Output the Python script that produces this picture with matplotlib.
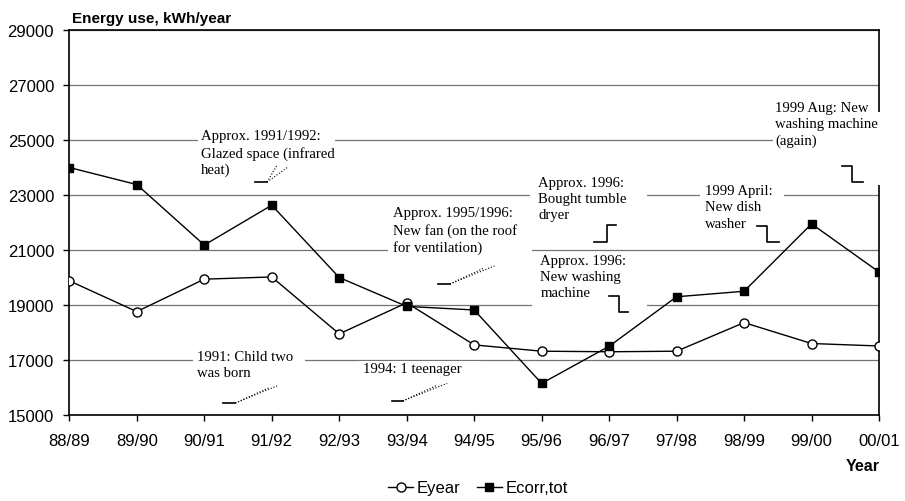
import matplotlib
matplotlib.use("Agg")
import matplotlib.pyplot as plt
from matplotlib.patches import Rectangle

plt.rcParams['font.family'] = ['Liberation Sans', 'DejaVu Sans']

# data
years = ['88/89', '89/90', '90/91', '91/92', '92/93', '93/94', '94/95',
         '95/96', '96/97', '97/98', '98/99', '99/00', '00/01']
e_year = [19880, 18760, 19940, 20020, 17950, 19080, 17550,
          17320, 17300, 17320, 18360, 17600, 17510]
e_corr = [24000, 23380, 21180, 22630, 20000, 18950, 18820,
          16150, 17500, 19300, 19500, 21950, 20200]
y_ticks = [15000, 17000, 19000, 21000, 23000, 25000, 27000, 29000]

# event notes: (x position, top of text, text)
notes = [
    (1.95, 25400, "Approx. 1991/1992:\nGlazed space (infrared\nheat)"),
    (4.80, 22600, "Approx. 1995/1996:\nNew fan (on the roof\nfor ventilation)"),
    (6.95, 23700, "Approx. 1996:\nBought tumble\ndryer"),
    (6.98, 20860, "Approx. 1996:\nNew washing\nmachine"),
    (9.42, 23400, "1999 April:\nNew dish\nwasher"),
    (10.46, 26420, "1999 Aug: New\nwashing machine\n(again)"),
    (1.89, 17380, "1991: Child two\nwas born"),
    (4.35, 16930, "1994: 1 teenager"),
]
# white text-box areas behind the notes: (x0, x1, y0, y1)
boxes = [
    (1.90, 3.94, 23220, 25470),
    (4.72, 6.86, 20380, 22640),
    (6.83, 8.56, 21110, 23730),
    (6.86, 8.56, 18490, 20890),
    (9.35, 10.59, 21110, 23440),
    (10.43, 12.3, 23360, 26020),
    (1.84, 3.50, 15300, 17400),
    (4.28, 6.10, 15300, 16950),
]
# little step connectors next to the notes
steps = [
    ([7.78, 7.97, 7.97, 8.10], [21290, 21290, 21910, 21910]),
    ([8.00, 8.15, 8.15, 8.28], [19330, 19330, 18745, 18745]),
    ([10.19, 10.34, 10.34, 10.52], [21870, 21870, 21290, 21290]),
    ([11.45, 11.60, 11.60, 11.76], [24055, 24055, 23470, 23470]),
]
# short solid stub + dotted tail
tails = [
    ([2.75, 2.93], 23470, [(3.08, 24090), (3.24, 24020)]),
    ([5.46, 5.64], 19765, [(6.15, 20350), (6.30, 20420)]),
    ([2.28, 2.46], 15436, [(2.95, 15980), (3.08, 16060)]),
    ([4.78, 4.94], 15510, [(5.45, 16080), (5.60, 16150)]),
]

fig = plt.figure(figsize=(9.05, 5.02), dpi=100)
ax = fig.add_axes([0.0766, 0.1713, 0.8947, 0.7669])

x = list(range(len(years)))
ax.plot(x, e_year, color='black', lw=1, marker='o', ms=6.5,
        mfc='white', mec='black', mew=1, label='Eyear', zorder=4)
ax.plot(x, e_corr, color='black', lw=1, marker='s', ms=6,
        mfc='black', mec='black', label='Ecorr,tot', zorder=4)

ax.set_xlim(0, len(years) - 1)
ax.set_ylim(15000, 29000)
ax.set_xticks(x)
ax.set_xticklabels(years)
ax.set_yticks(y_ticks)
ax.tick_params(direction='out', length=4, width=1, labelsize=12)
ax.tick_params(axis='x', pad=9)
ax.tick_params(axis='y', pad=7)
ax.yaxis.grid(True, color='0.45', lw=0.9)
ax.set_axisbelow(True)
for s in ax.spines.values():
    s.set_linewidth(1.2)
    s.set_color('black')

for x0, x1, y0, y1 in boxes:
    ax.add_patch(Rectangle((x0, y0), x1 - x0, y1 - y0, facecolor='white',
                           edgecolor='none', zorder=3, clip_on=False))

for nx, ny, txt in notes:
    ax.text(nx, ny, txt, family=['Liberation Serif', 'DejaVu Serif'],
            fontsize=10.6, va='top', ha='left', linespacing=1.33,
            zorder=5, clip_on=False)

for sx, sy in steps:
    ax.plot(sx, sy, color='black', lw=1.2, zorder=6, clip_on=False)
for sx, sy, ends in tails:
    ax.plot(sx, [sy, sy], color='black', lw=1.2, zorder=6)
    for ex, ey in ends:
        ax.plot([sx[1], ex], [sy, ey], color='black', lw=0.8, ls=':', zorder=6)

fig.text(0.080, 0.962, 'Energy use, kWh/year', fontsize=11,
         fontweight='bold', ha='left', va='center')
fig.text(0.972, 0.070, 'Year', fontsize=11.5, fontweight='bold',
         ha='right', va='center')
fig.legend(loc='center', bbox_to_anchor=(0.528, 0.026), ncol=2,
           frameon=False, fontsize=12, handlelength=1.5,
           handletextpad=0.2, columnspacing=1.0)

fig.savefig('out.png', dpi=100)
